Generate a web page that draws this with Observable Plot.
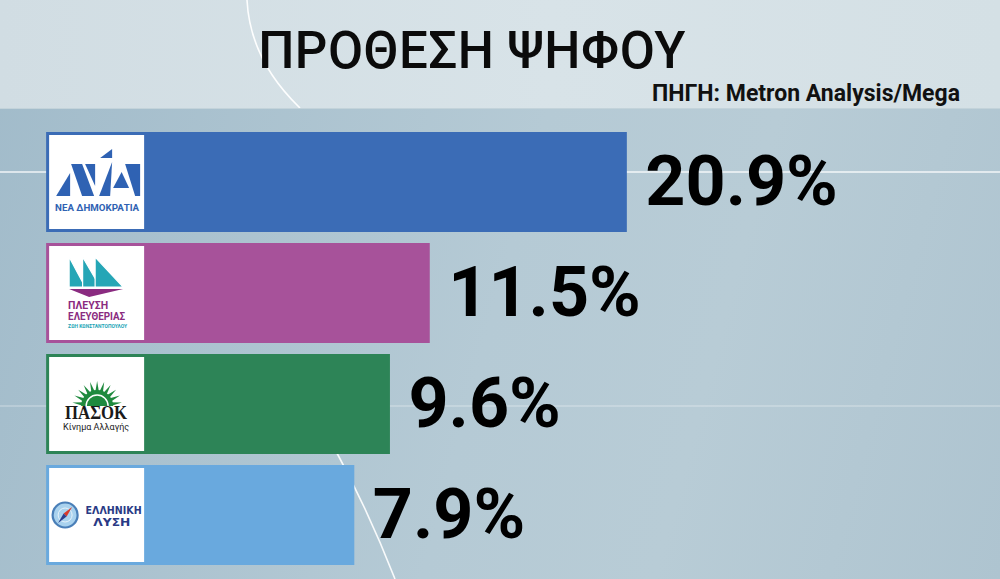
<!DOCTYPE html>
<html>
<head>
<meta charset="utf-8">
<script src="https://cdn.jsdelivr.net/npm/d3@7"></script>
<script src="https://cdn.jsdelivr.net/npm/@observablehq/plot@0.6"></script>
<style>
html, body { margin: 0; padding: 0; }
body {
  width: 1000px; height: 579px; overflow: hidden; position: relative;
  font-family: Roboto, "Noto Sans", sans-serif;
  background: linear-gradient(105deg, #a1bbca 0%, #b5cad5 50%, #b8ccd6 70%, #aec4d0 100%);
}
#deco { position: absolute; left: 0; top: 0; }
#header {
  position: absolute; left: 0; top: 0; width: 1000px; height: 108px;
  background: linear-gradient(90deg, #d1dde3 0%, #d8e3e8 55%, #d4e0e5 100%);
  border-bottom: 1px solid #c3d3da;
}
#title {
  position: absolute; left: 0; top: 25px; width: 944px; text-align: center;
  font-size: 51px; line-height: 51px; font-weight: 500; color: #0b0b0b;
  letter-spacing: 0.5px;
}
#source {
  position: absolute; right: 40px; top: 82px;
  font-size: 23px; line-height: 23px; font-weight: 700; color: #111;
}
#chart { position: absolute; left: 0; top: 108px; }
</style>
</head>
<body>
<svg id="deco" width="1000" height="579">
  <line x1="0" y1="172" x2="1000" y2="172" stroke="#ffffff" stroke-width="1.5" opacity="0.85"/>
  <line x1="0" y1="406" x2="1000" y2="406" stroke="#ffffff" stroke-width="1.2" opacity="0.45"/>
  <path d="M330,440 Q366,505 395,579" fill="none" stroke="#ffffff" stroke-width="1.6" opacity="0.9"/>
</svg>
<div id="header">
  <svg width="1000" height="108" style="position:absolute;left:0;top:0">
    <path d="M247,0 Q250,60 300,108" fill="none" stroke="#ffffff" stroke-width="1.6" opacity="0.95"/>
  </svg>
  <div id="title">ΠΡΟΘΕΣΗ ΨΗΦΟΥ</div>
  <div id="source">ΠΗΓΗ: Metron Analysis/Mega</div>
</div>
<div id="chart"></div>
<script>
// ---- data ----
const parties = ["Νέα Δημοκρατία", "Πλεύση Ελευθερίας", "ΠΑΣΟΚ-ΚΙΝΑΛ", "Ελληνική Λύση"];
const values = [20.9, 11.5, 9.6, 7.9];
const barColors = ["#3b6cb6", "#a7529a", "#2d8457", "#69a9de"];
const labels = values.map(v => v.toFixed(1) + "%");

const data = parties.map((party, i) => ({party, value: values[i], label: labels[i]}));

// scale setup (the graphic's bars start left of zero to leave room for the logo)
const xDomain = [-9.0, 38.7];
const barBase = -6.8;

// ---- logo drawers (local coords inside the white logo box) ----
function txt(g, x, y, s, o) {
  const t = g.append("text").attr("x", x).attr("y", y)
    .attr("text-anchor", o.anchor || "start")
    .attr("font-family", o.family || "Roboto")
    .attr("font-weight", o.weight || 400)
    .attr("font-size", o.size)
    .attr("fill", o.fill);
  if (o.style) t.attr("font-style", o.style);
  if (o.len) t.attr("textLength", o.len).attr("lengthAdjust", "spacingAndGlyphs");
  t.text(s);
  return t;
}
function poly(g, pts, fill) {
  g.append("polygon").attr("points", pts.map(p => p.join(",")).join(" ")).attr("fill", fill);
}
function drawND(g) {
  const blue = "#2f62b3";
  poly(g, [[7, 61], [21, 61], [21, 38]], blue);
  poly(g, [[22, 29], [33, 29], [45, 61], [33, 61]], blue);
  poly(g, [[36, 29], [46, 29], [46, 51]], blue);
  poly(g, [[51, 23], [63, 14], [63, 23]], blue);
  poly(g, [[50, 61], [63, 27], [61, 61]], blue);
  poly(g, [[64, 53], [72.5, 37], [80, 53]], blue);
  poly(g, [[76, 29], [91, 29], [91, 61], [86, 61]], blue);
  txt(g, 48, 75.5, "ΝΕΑ ΔΗΜΟΚΡΑΤΙΑ", {anchor: "middle", weight: 700, size: 9.6, len: 84, fill: blue});
}
function drawPlefsi(g) {
  const teal = "#25a6b6", purple = "#8a2b80";
  const sails = [
    [[20, 11], [20, 41], [36, 41]],
    [[33.5, 11], [33.5, 41], [51, 41]],
    [[46, 11], [46, 41], [74, 41]]
  ];
  sails.forEach(s => g.append("polygon").attr("points", s.map(p => p.join(",")).join(" "))
    .attr("fill", teal).attr("stroke", "white").attr("stroke-width", 1.2));
  g.append("polygon").attr("points", "20,43 74,43 40,51").attr("fill", purple);
  txt(g, 19, 62.5, "ΠΛΕΥΣΗ", {weight: 700, size: 10, len: 40, fill: purple});
  txt(g, 19, 74, "ΕΛΕΥΘΕΡΙΑΣ", {weight: 700, size: 10, len: 57, fill: purple});
  txt(g, 19, 82, "ΖΩΗ ΚΩΝΣΤΑΝΤΟΠΟΥΛΟΥ", {weight: 700, size: 4.5, len: 59, fill: teal});
}
function drawPasok(g) {
  const green = "#1f8a3e";
  const cx = 48, cy = 49, n = 11, r0 = 13, r1 = 25;
  for (let k = 0; k < n; k++) {
    const a = Math.PI + Math.PI * (k + 0.5) / n, h = Math.PI / n * 0.55;
    const p1 = [cx + r0 * Math.cos(a - h), cy + r0 * Math.sin(a - h)];
    const p2 = [cx + r1 * Math.cos(a), cy + r1 * Math.sin(a)];
    const p3 = [cx + r0 * Math.cos(a + h), cy + r0 * Math.sin(a + h)];
    poly(g, [p1, p2, p3], green);
  }
  g.append("path").attr("d", `M${cx - 16},${cy} A16,16 0 0 1 ${cx + 16},${cy} Z`).attr("fill", green);
  g.append("path").attr("d", `M${cx - 11},${cy} A11,11 0 0 1 ${cx + 11},${cy}`)
    .attr("fill", "none").attr("stroke", "white").attr("stroke-width", 1.4);
  txt(g, 47, 62, "ΠΑΣΟΚ", {anchor: "middle", family: "Liberation Serif, DejaVu Serif, serif", weight: 700, size: 18, len: 62, fill: "#1a1a1a"});
  txt(g, 47, 72.5, "Κίνημα Αλλαγής", {anchor: "middle", size: 9, len: 66, fill: "#222"});
}
function drawLysi(g) {
  const navy = "#2a3a85";
  const cx = 16, cy = 47;
  g.append("circle").attr("cx", cx).attr("cy", cy).attr("r", 12.5)
    .attr("fill", "#a9d2ee").attr("stroke", "#4a7fb8").attr("stroke-width", 2.2);
  g.append("circle").attr("cx", cx).attr("cy", cy).attr("r", 7)
    .attr("fill", "none").attr("stroke", "#e8f3fa").attr("stroke-width", 1);
  poly(g, [[cx + 7, cy - 8], [cx + 1.5, cy + 1.5], [cx - 1.5, cy - 1.5]], "#d83a2c");
  poly(g, [[cx - 7, cy + 8], [cx + 1.5, cy + 1.5], [cx - 1.5, cy - 1.5]], "#2b3f8f");
  txt(g, 64.5, 46, "ΕΛΛΗΝΙΚΗ", {anchor: "middle", family: "DejaVu Sans", weight: 700, size: 11, len: 56, fill: navy});
  txt(g, 62.7, 57.5, "ΛΥΣΗ", {anchor: "middle", family: "DejaVu Sans", weight: 700, size: 11, len: 37, fill: navy});
}
const logoDrawers = [drawND, drawPlefsi, drawPasok, drawLysi];

function logos(index, scales) {
  const g = d3.create("svg:g");
  const x = scales.x, y = scales.y;
  const bw = y.bandwidth ? y.bandwidth() : 100;
  parties.forEach((p, i) => {
    const lg = g.append("g").attr("transform", `translate(${x(barBase) + 3},${y(p) + 3})`);
    lg.append("rect").attr("width", 95).attr("height", bw - 6).attr("fill", "white");
    logoDrawers[i](lg);
  });
  return g.node();
}

const chart = Plot.plot({
  width: 1000,
  height: 471,
  marginTop: 23,
  marginBottom: 14,
  marginLeft: 0,
  marginRight: 0,
  style: {background: "transparent", overflow: "visible"},
  x: {domain: xDomain, axis: null},
  y: {domain: parties, axis: null, paddingInner: 0.1, paddingOuter: 0},
  color: {domain: parties, range: barColors},
  marks: [
    Plot.barX(data, {x1: barBase, x2: "value", y: "party", fill: "party"}),
    logos,
    Plot.text(data, {
      x: "value", y: "party", text: "label", textAnchor: "start", dx: 18,
      fontSize: 70, fontWeight: 700, fontFamily: "Roboto", fill: "#000"
    })
  ]
});
document.getElementById("chart").appendChild(chart);
</script>
</body>
</html>
